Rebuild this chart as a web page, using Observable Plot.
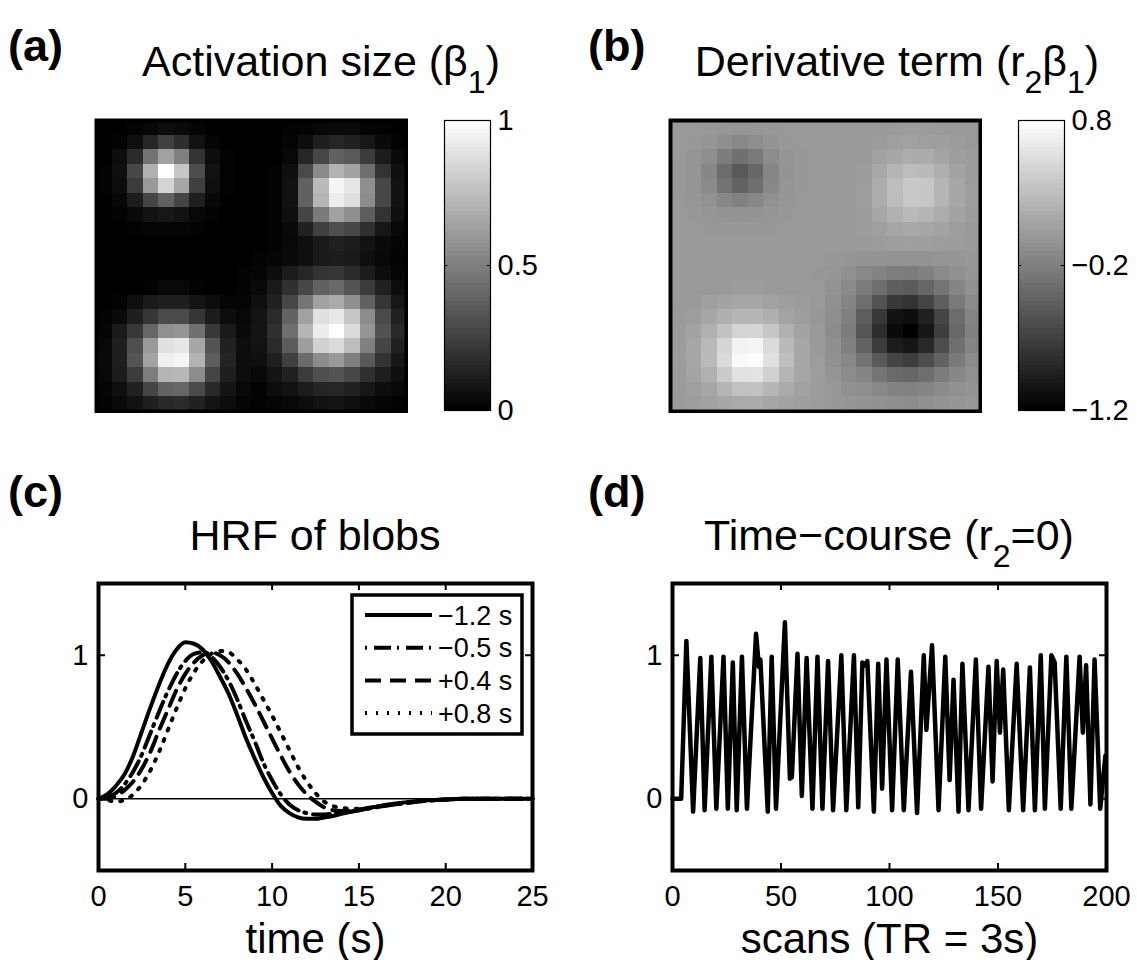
<!DOCTYPE html>
<html>
<head>
<meta charset="utf-8">
<script src="https://cdn.jsdelivr.net/npm/d3@7"></script>
<script src="https://cdn.jsdelivr.net/npm/@observablehq/plot@0.6"></script>
<style>
  body { margin: 0; background: #fff; }
  #fig { position: relative; width: 1137px; height: 960px; overflow: hidden; background: #fff; }
  #fig > svg { position: absolute; }
</style>
</head>
<body>
<div id="fig"></div>
<script>
const FONT = '"Liberation Sans", Arial, Helvetica, sans-serif';
const fig = document.getElementById("fig");

// ---------- data ----------
// voxel grid indices (20 x 20 image)
const gridIndex = d3.range(20);

// (a) activation size β1, in hundredths
const betaRows = [
  [0,0,1,3,5,4,2,0,0,0,0,0,1,2,3,4,4,2,1,0],
  [0,1,6,15,25,18,7,2,0,0,0,0,2,5,12,15,13,9,4,1],
  [0,5,17,45,63,50,20,5,1,0,0,0,3,15,28,38,35,23,11,4],
  [1,6,28,69,100,78,30,7,1,0,0,1,6,29,54,70,64,43,20,6],
  [1,5,23,60,83,65,25,6,1,0,0,1,7,38,73,96,90,56,28,7],
  [0,3,11,27,38,27,12,3,0,0,0,1,7,38,71,93,87,55,28,7],
  [0,1,4,7,9,7,3,1,0,0,0,1,6,27,48,63,56,37,20,6],
  [0,0,1,2,2,2,1,0,0,0,0,1,4,13,25,31,28,19,9,3],
  [0,0,0,0,0,0,0,0,0,0,0,1,3,6,10,13,11,7,4,2],
  [0,0,0,0,0,0,0,0,0,0,1,2,4,6,10,11,10,6,3,1],
  [0,0,0,0,0,0,0,0,0,1,2,5,11,15,20,21,17,11,5,2],
  [0,0,0,1,3,3,1,0,0,1,4,10,19,28,38,41,33,23,13,5],
  [0,1,6,10,12,12,8,5,2,2,6,13,28,46,63,67,56,38,21,9],
  [1,4,12,21,29,29,21,11,5,3,8,17,39,63,88,91,78,55,29,13],
  [2,10,22,40,57,59,44,22,10,4,8,19,44,71,93,100,86,59,32,16],
  [3,12,31,60,88,90,65,33,13,5,7,17,36,62,82,86,74,50,27,13],
  [4,12,33,64,94,96,70,37,14,5,6,12,25,42,55,60,50,35,20,9],
  [3,11,24,49,71,72,55,27,12,5,3,8,13,23,31,33,28,19,12,6],
  [2,6,13,27,39,40,29,16,8,3,1,5,7,11,14,15,13,9,5,3],
  [1,4,7,12,16,17,13,8,5,2,1,2,3,5,7,8,6,4,2,1]
];

// (b) derivative term r2·β1, in hundredths
const derivRows = [
  [0,0,-1,-2,-3,-2,-1,0,0,0,0,0,0,1,1,2,2,1,0,0],
  [0,-1,-3,-8,-13,-9,-4,-1,0,0,0,0,1,2,5,6,5,4,2,0],
  [0,-3,-9,-23,-32,-25,-10,-3,-1,0,0,0,1,6,11,15,14,9,4,2],
  [-1,-3,-14,-35,-50,-39,-15,-4,-1,0,0,0,2,12,22,28,26,17,8,2],
  [-1,-3,-12,-30,-42,-33,-13,-3,-1,0,0,0,3,15,29,38,36,22,11,3],
  [0,-2,-6,-14,-19,-14,-6,-2,0,0,0,0,3,15,28,37,35,22,11,3],
  [0,-1,-2,-4,-5,-4,-2,-1,0,0,0,0,2,11,19,25,22,15,8,2],
  [0,0,-1,-1,-1,-1,-1,0,0,0,0,0,2,5,10,12,11,8,4,1],
  [0,0,0,0,0,0,0,0,0,0,0,0,1,2,4,5,4,3,2,1],
  [0,0,0,0,0,0,0,0,0,0,-1,-2,-4,-4,-5,-5,-5,-3,-2,-1],
  [0,0,0,0,0,0,0,0,0,-1,-2,-6,-13,-17,-22,-23,-19,-12,-6,-2],
  [0,0,0,1,2,2,1,0,0,0,-5,-12,-23,-34,-46,-49,-40,-28,-16,-6],
  [0,1,5,8,10,10,6,4,2,0,-7,-16,-34,-55,-76,-80,-67,-46,-25,-11],
  [1,3,10,17,23,23,17,9,4,-1,-9,-20,-47,-76,-106,-109,-94,-66,-35,-16],
  [2,8,18,32,46,47,35,18,8,0,-10,-23,-53,-85,-112,-120,-103,-71,-38,-19],
  [2,10,25,48,70,72,52,26,10,1,-8,-20,-43,-74,-98,-103,-89,-60,-32,-16],
  [3,10,26,51,75,77,56,30,11,2,-6,-14,-30,-50,-66,-72,-60,-42,-24,-11],
  [2,9,19,39,57,58,44,22,10,3,-3,-10,-16,-28,-37,-40,-34,-23,-14,-7],
  [2,5,10,22,31,32,23,13,6,2,-1,-6,-8,-13,-17,-18,-16,-11,-6,-4],
  [1,3,6,10,13,14,10,6,4,2,-1,-2,-4,-6,-8,-10,-7,-5,-2,-1]
];

// (c) HRF of each blob, sampled in seconds
const hrfTime = [0,0.5,1,1.5,2,2.5,3,3.5,4,4.5,5,5.5,6,6.5,7,7.5,8,8.5,9,9.5,10,10.5,11,11.5,12,12.5,13,13.5,14,15,16,17,18,19,20,21,22,23,24,25];
const hrfMinus12 = [0,0.03,0.09,0.17,0.30,0.47,0.64,0.80,0.94,1.04,1.09,1.08,1.04,0.96,0.85,0.73,0.58,0.42,0.28,0.15,0.04,-0.05,-0.10,-0.13,-0.14,-0.14,-0.13,-0.12,-0.105,-0.08,-0.055,-0.035,-0.02,-0.01,-0.005,0,0,0,0,0];
const hrfMinus05 = [0,0.01,0.04,0.10,0.19,0.31,0.46,0.61,0.75,0.87,0.96,1.01,1.02,0.99,0.92,0.82,0.69,0.54,0.40,0.25,0.13,0.03,-0.04,-0.08,-0.10,-0.11,-0.11,-0.105,-0.10,-0.08,-0.06,-0.04,-0.025,-0.012,-0.005,0,0,0,0,0];
const hrfPlus04 = [0,0,0.02,0.06,0.12,0.21,0.33,0.48,0.62,0.76,0.87,0.95,1.0,1.02,1.0,0.95,0.87,0.77,0.66,0.54,0.42,0.30,0.19,0.10,0.03,-0.02,-0.06,-0.08,-0.085,-0.075,-0.055,-0.04,-0.025,-0.013,-0.006,0,0,0,0,0];
const hrfPlus08 = [0,-0.01,-0.02,-0.01,0.03,0.10,0.20,0.33,0.48,0.63,0.77,0.88,0.96,1.01,1.03,1.02,0.97,0.90,0.80,0.69,0.58,0.46,0.34,0.22,0.12,0.04,-0.02,-0.05,-0.065,-0.07,-0.055,-0.04,-0.025,-0.013,-0.006,0,0,0,0,0];
const shiftLabels = ["\u22121.2 s", "\u22120.5 s", "+0.4 s", "+0.8 s"];
const shiftDash = [null, "2,7,17,6", "16,9", "2,9"];

// (d) voxel time-course, turning points along the scan axis
const scanPts = [0,4,6.4,9.5,12.8,14.8,17.9,20.2,23.5,25.5,27.8,29.6,32,34.3,38.5,39.8,40.5,43.9,45.7,47.7,51.8,54.1,55,57.6,59.6,61.8,64.5,66.8,69.1,71.7,74,77.8,80.1,83.6,85.6,87.5,88.7,89.8,92.8,94.8,96.6,98.6,101.2,103.8,106.6,109.9,112.7,115.8,117,119.6,122.6,125.7,127.7,129.5,131.8,133.6,136.4,139.8,142.2,145.6,147.5,149.4,150.9,152.4,155,158.6,161.6,164.7,167,169.7,171.6,174.6,176.1,178.9,181.5,183.8,187.6,189.1,190.6,192.6,194.5,197.1,199.5];
const signalPts = [0,0,1.10,-0.09,0.98,-0.08,0.99,-0.07,0.99,-0.07,0.95,-0.08,0.99,-0.07,1.15,0.92,0.97,-0.09,0.99,-0.07,1.23,0.14,0.15,1.01,0.02,0.98,-0.07,0.99,-0.07,0.96,-0.08,1.00,-0.08,1.00,-0.06,0.95,0.93,0.96,-0.09,0.94,0.07,0.97,-0.08,0.97,-0.08,0.885,-0.10,1.00,0.48,1.07,-0.08,0.99,0.13,0.83,-0.09,0.94,-0.08,0.97,-0.07,0.92,0.12,0.96,0.46,0.90,-0.08,0.94,-0.08,0.915,-0.08,1.00,-0.07,1.00,0.95,-0.07,0.99,-0.07,0.99,0.46,0.93,-0.04,0.97,-0.07,0.3];

// tick values
const betaTicks = [0, 0.5, 1];
const derivTicks = [-1.2, -0.2, 0.8];
const timeTicks = [0, 5, 10, 15, 20, 25];
const scanTicks = [0, 50, 100, 150, 200];
const ampTicks = [0, 1];

// ---------- helpers ----------
function place(svg, left, top) {
  svg.style.left = left + "px";
  svg.style.top = top + "px";
  fig.appendChild(svg);
}

function heatmap(rows, domain) {
  const cells = rows.flatMap((row, r) => row.map((v, c) => ({r, c, v: v / 100})));
  return Plot.plot({
    width: 314, height: 295, margin: 2,
    x: {type: "band", domain: gridIndex, padding: 0, round: false, axis: null, label: null},
    y: {type: "band", domain: gridIndex, padding: 0, round: false, axis: null, label: null},
    color: {type: "linear", domain, range: ["#000", "#fff"], interpolate: "rgb"},
    style: {background: "transparent"},
    marks: [
      Plot.cell(cells, {x: "c", y: "r", fill: "v", inset: 0, shapeRendering: "crispEdges"}),
      Plot.frame({stroke: "#000", strokeWidth: 4})
    ]
  });
}

function colorbar(domain, ticks) {
  const span = domain[1] - domain[0];
  const levels = d3.range(64).map(i => ({
    y1: domain[0] + span * i / 64,
    y2: domain[0] + span * (i + 1) / 64,
    v: domain[0] + span * (i + 0.5) / 64
  }));
  return Plot.plot({
    width: 130, height: 330, marginLeft: 5, marginRight: 79, marginTop: 20, marginBottom: 20,
    x: {domain: [0, 1], axis: null, label: null},
    y: {domain, axis: null, label: null},
    color: {type: "linear", domain, range: ["#000", "#fff"], interpolate: "rgb"},
    style: {fontFamily: FONT, fontSize: "29px", background: "transparent", color: "#000"},
    marks: [
      Plot.rect(levels, {x1: 0, x2: 1, y1: "y1", y2: "y2", fill: "v", shapeRendering: "crispEdges"}),
      Plot.ruleY([ticks[1]], {x1: 0, x2: 0.07, stroke: "#000", strokeWidth: 1}),
      Plot.ruleY([ticks[1]], {x1: 0.93, x2: 1, stroke: "#000", strokeWidth: 1}),
      Plot.frame({stroke: "#000", strokeWidth: 1.2}),
      Plot.axisY(ticks, {anchor: "right", tickSize: 0, tickPadding: 7, fontSize: 29,
                         tickFormat: d3.format("~g"), label: null})
    ]
  });
}

function linePanel({xDomain, xTicks, xLabel, marks}) {
  const W = 520, H = 390, mL = 58, mR = 28, mT = 13, mB = 90;
  const yDomain = [-0.5, 1.5];
  const tickPx = 7;
  const yLen = tickPx / (H - mT - mB) * (yDomain[1] - yDomain[0]);
  const xLen = tickPx / (W - mL - mR) * (xDomain[1] - xDomain[0]);
  return Plot.plot({
    width: W, height: H, marginLeft: mL, marginRight: mR, marginTop: mT, marginBottom: mB,
    x: {domain: xDomain, axis: null, label: null},
    y: {domain: yDomain, axis: null, label: null},
    style: {fontFamily: FONT, fontSize: "29px", background: "transparent", color: "#000"},
    marks: [
      ...marks,
      Plot.ruleX(xTicks, {y1: yDomain[0], y2: yDomain[0] + yLen, stroke: "#000", strokeWidth: 2}),
      Plot.ruleX(xTicks, {y1: yDomain[1] - yLen, y2: yDomain[1], stroke: "#000", strokeWidth: 2}),
      Plot.ruleY(ampTicks, {x1: xDomain[0], x2: xDomain[0] + xLen, stroke: "#000", strokeWidth: 2}),
      Plot.ruleY(ampTicks, {x1: xDomain[1] - xLen, x2: xDomain[1], stroke: "#000", strokeWidth: 2}),
      Plot.frame({stroke: "#000", strokeWidth: 4}),
      Plot.axisX(xTicks, {anchor: "bottom", tickSize: 0, tickPadding: 15, fontSize: 29,
                          tickFormat: d3.format("d"), label: null}),
      Plot.axisY(ampTicks, {anchor: "left", tickSize: 0, tickPadding: 10, fontSize: 29,
                            tickFormat: d3.format("d"), label: null}),
      Plot.text([xLabel], {text: d => d, frameAnchor: "bottom", lineAnchor: "bottom",
                           dy: 82, fontSize: 42, fill: "#000"})
    ]
  });
}

// ---------- panels ----------
place(heatmap(betaRows, [0, 1]), 94, 118);
place(colorbar([0, 1], betaTicks), 439, 100);

place(heatmap(derivRows, [-1.2, 0.8]), 668, 118);
place(colorbar([-1.2, 0.8], derivTicks), 1013, 100);

const hrfSeries = [hrfMinus12, hrfMinus05, hrfPlus04, hrfPlus08];
place(linePanel({
  xDomain: [0, 25], xTicks: timeTicks, xLabel: "time (s)",
  marks: [
    Plot.ruleY([0], {stroke: "#000", strokeWidth: 1.5}),
    ...hrfSeries.map((vals, k) => Plot.line(hrfTime.map((t, i) => ({t, v: vals[i]})), {
      x: "t", y: "v", stroke: "#000", strokeWidth: 4,
      strokeDasharray: shiftDash[k], curve: "monotone-x"
    }))
  ]
}), 40, 570);

place(linePanel({
  xDomain: [0, 200], xTicks: scanTicks, xLabel: "scans (TR = 3s)",
  marks: [
    Plot.line(scanPts.map((s, i) => ({s, v: signalPts[i]})), {
      x: "s", y: "v", stroke: "#000", strokeWidth: 4.5,
      strokeLinejoin: "round", strokeLinecap: "round"
    })
  ]
}), 614, 570);

// ---------- titles, panel letters and legend ----------
const overlay = d3.create("svg")
  .attr("width", 1137).attr("height", 960)
  .attr("font-family", FONT)
  .style("left", "0px").style("top", "0px")
  .style("pointer-events", "none");

const panelLetters = [
  {t: "(a)", x: 8, y: 61}, {t: "(b)", x: 588, y: 61},
  {t: "(c)", x: 8, y: 507}, {t: "(d)", x: 588, y: 507}
];
panelLetters.forEach(d => overlay.append("text")
  .attr("x", d.x).attr("y", d.y).attr("font-size", 45).attr("font-weight", "bold").text(d.t));

const TITLE = 43, SUB = 32, SHIFT = 17;
const titles = [
  {x: 321, y: 76, parts: [["Activation size (\u03b2"], ["1", true], [")"]]},
  {x: 897, y: 76, parts: [["Derivative term (r"], ["2", true], ["\u03b2"], ["1", true], [")"]]},
  {x: 315, y: 550, parts: [["HRF of blobs"]]},
  {x: 889, y: 550, parts: [["Time\u2212course (r"], ["2", true], ["=0)"]]}
];
titles.forEach(d => {
  const txt = overlay.append("text").attr("x", d.x).attr("y", d.y)
    .attr("text-anchor", "middle").attr("font-size", TITLE);
  let down = false;
  d.parts.forEach(([s, sub]) => {
    const ts = txt.append("tspan").text(s);
    if (sub && !down) { ts.attr("dy", SHIFT).attr("font-size", SUB); down = true; }
    else if (sub) { ts.attr("font-size", SUB); }
    else if (down) { ts.attr("dy", -SHIFT); down = false; }
  });
});

const legend = overlay.append("g");
legend.append("rect").attr("x", 352).attr("y", 595).attr("width", 170).attr("height", 139)
  .attr("fill", "#fff").attr("stroke", "#000").attr("stroke-width", 3.5);
shiftLabels.forEach((lab, k) => {
  const y = 615 + k * 32.7;
  const ln = legend.append("line").attr("x1", 365).attr("x2", 432).attr("y1", y).attr("y2", y)
    .attr("stroke", "#000").attr("stroke-width", 4);
  if (shiftDash[k]) ln.attr("stroke-dasharray", shiftDash[k]);
  legend.append("text").attr("x", 438).attr("y", y).attr("dy", "0.36em")
    .attr("font-size", 27).text(lab);
});

fig.appendChild(overlay.node());
</script>
</body>
</html>
